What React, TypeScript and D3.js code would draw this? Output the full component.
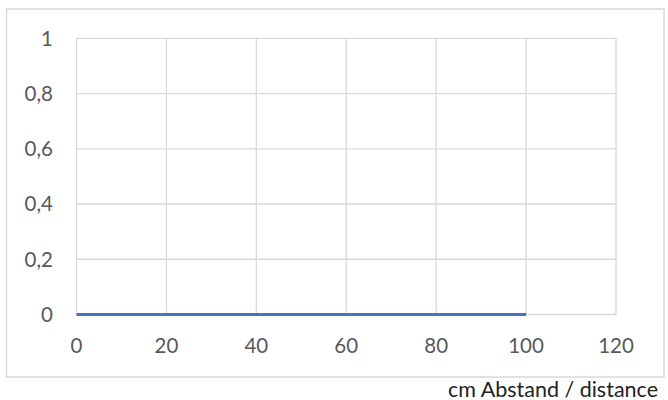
import React from "react";
import * as d3 from "d3";

const distances = [0, 10, 20, 30, 40, 50, 60, 70, 80, 90, 100];
const values = [0, 0, 0, 0, 0, 0, 0, 0, 0, 0, 0];
const xTicks = [0, 20, 40, 60, 80, 100, 120];
const yTicks = [0, 0.2, 0.4, 0.6, 0.8, 1];
const caption = "cm Abstand / distance";

const W = 668;
const H = 400;
const plot = { left: 76.5, right: 616, top: 38.3, bottom: 314.5 };

export default function App() {
  const x = d3.scaleLinear().domain([0, 120]).range([plot.left, plot.right]);
  const y = d3.scaleLinear().domain([0, 1]).range([plot.bottom, plot.top]);
  const line = d3
    .line<number>()
    .x((_, i) => x(distances[i]))
    .y((d) => y(d));
  const fmt = (v: number) => String(v).replace(".", ",");
  const font = "Lato, 'Open Sans', sans-serif";
  return (
    <svg
      width={W}
      height={H}
      style={{ position: "absolute", left: 0, top: 0, background: "#fff" }}
    >
      <rect x={6.5} y={9} width={657.5} height={368} fill="#fff" stroke="#d9d9d9" strokeWidth={1.5} />
      {yTicks.map((t) => (
        <line key={"gy" + t} x1={plot.left} x2={plot.right} y1={y(t)} y2={y(t)} stroke="#d9d9d9" strokeWidth={1.3} />
      ))}
      {xTicks.map((t) => (
        <line key={"gx" + t} x1={x(t)} x2={x(t)} y1={plot.top} y2={plot.bottom} stroke="#d9d9d9" strokeWidth={1.3} />
      ))}
      <path d={line(values) || ""} fill="none" stroke="#4472c4" strokeWidth={3.2} />
      {yTicks.map((t) => (
        <text key={"ly" + t} x={53} y={y(t)} dy="0.36em" textAnchor="end" fontFamily={font} fontSize={20.5} fill="#595959">
          {fmt(t)}
        </text>
      ))}
      {xTicks.map((t) => (
        <text key={"lx" + t} x={x(t)} y={353} textAnchor="middle" fontFamily={font} fontSize={20.5} fill="#595959">
          {fmt(t)}
        </text>
      ))}
      <text x={658} y={397} textAnchor="end" fontFamily={font} fontSize={21.5} fill="#222">
        {caption}
      </text>
    </svg>
  );
}
